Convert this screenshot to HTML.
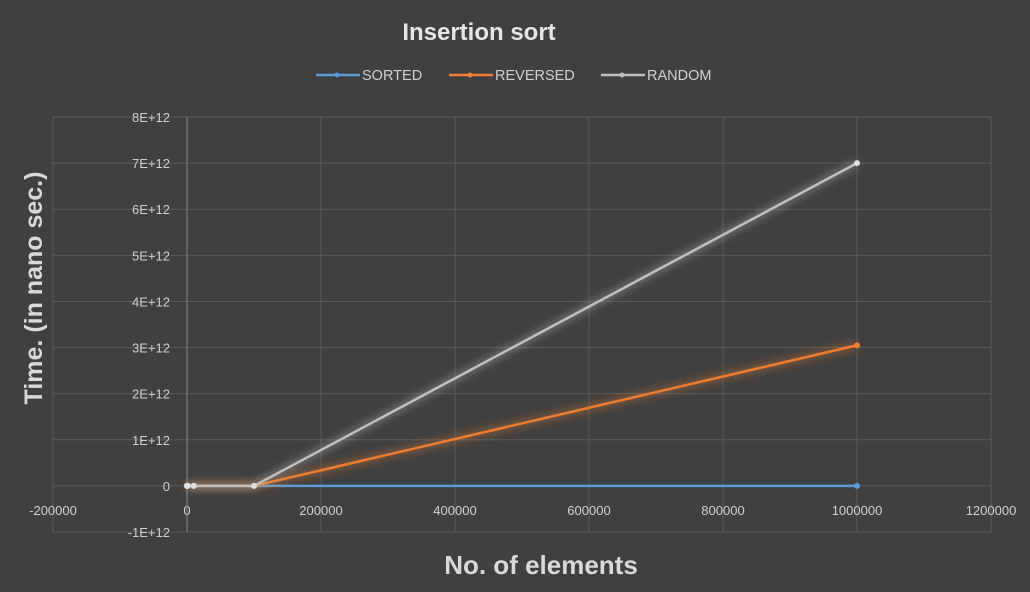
<!DOCTYPE html>
<html><head><meta charset="utf-8"><style>
html,body{margin:0;padding:0;background:#404040;}
svg{display:block;font-family:"Liberation Sans",sans-serif;}
</style></head><body>
<svg id="chart" width="1030" height="592">
<rect width="1030" height="592" fill="#404040"/>
<defs><filter id="glow" x="-20%" y="-20%" width="140%" height="140%"><feGaussianBlur stdDeviation="4"/></filter></defs>
<text x="479" y="40" text-anchor="middle" fill="#e6e6e6" font-size="24" font-weight="bold">Insertion sort</text>
<g id="grid"></g>
<g id="axes"></g>
<g id="series"></g>
<g id="legend"></g>
<text x="541" y="574" text-anchor="middle" fill="#d9d9d9" font-size="26" font-weight="bold">No. of elements</text>
<text transform="translate(42,288) rotate(-90)" text-anchor="middle" fill="#d9d9d9" font-size="25" font-weight="bold">Time. (in nano sec.)</text>
</svg>
<script>
const xValues = [10, 100, 1000, 10000, 100000, 1000000];
const sortedValues = [0, 0, 0, 0, 0, 0];
const reversedValues = [0, 0, 0, 0, 0, 3.05e12];
const randomValues = [0, 0, 0, 0, 0, 7.0e12];
const xTicks = [-200000, 0, 200000, 400000, 600000, 800000, 1000000, 1200000];
const xTickLabels = ["-200000","0","200000","400000","600000","800000","1000000","1200000"];
const yTicks = [-1e12, 0, 1e12, 2e12, 3e12, 4e12, 5e12, 6e12, 7e12, 8e12];
const yTickLabels = ["-1E+12","0","1E+12","2E+12","3E+12","4E+12","5E+12","6E+12","7E+12","8E+12"];
const seriesNames = ["SORTED","REVERSED","RANDOM"];
const seriesColors = ["#5b9bd5","#ed7d31","#bfbfbf"];

const NS = "http://www.w3.org/2000/svg";
const X0 = 53, X1 = 991, Y0 = 532, Y1 = 117;
function xs(v){ return X0 + (v - (-200000)) / 1400000 * (X1 - X0); }
function ys(v){ return Y0 - (v - (-1e12)) / 9e12 * (Y0 - Y1); }
function mk(tag, attrs, parent){ const e = document.createElementNS(NS, tag); for (const k in attrs) e.setAttribute(k, attrs[k]); parent.appendChild(e); return e; }

const grid = document.getElementById('grid');
const axes = document.getElementById('axes');
xTicks.forEach((t, i) => {
  const l = mk('line', {x1: xs(t), x2: xs(t), y1: Y1, y2: Y0, stroke: '#5a5a5a', 'stroke-width': 1}, grid);
  
  
  const tx = mk('text', {x: xs(t), y: 515, 'text-anchor': 'middle', fill: '#d0d0d0', 'font-size': 13}, axes);
  tx.textContent = xTickLabels[i];
  
  
});
yTicks.forEach((t, i) => {
  const l = mk('line', {x1: X0, x2: X1, y1: ys(t), y2: ys(t), stroke: '#5a5a5a', 'stroke-width': 1}, grid);
  
  
  const tx = mk('text', {x: 170, y: ys(t) + 5, 'text-anchor': 'end', fill: '#d0d0d0', 'font-size': 13}, axes);
  tx.textContent = yTickLabels[i];
  
  
});
const ax = mk('line', {x1: xs(0), x2: xs(0), y1: Y1, y2: Y0, stroke: '#8a8a8a', 'stroke-width': 1}, axes);



const series = document.getElementById('series');
[sortedValues, reversedValues, randomValues].forEach((vals, si) => {
  const pts = xValues.map((x, i) => xs(x) + ',' + ys(vals[i])).join(' ');
  const g = mk('polyline', {points: pts, fill: 'none', stroke: seriesColors[si], 'stroke-width': 8, opacity: 0.35, filter: 'url(#glow)'}, series);
  
  
  const p = mk('polyline', {points: pts, fill: 'none', stroke: seriesColors[si], 'stroke-width': 2.5}, series);
  
  
  xValues.forEach((x, i) => {
    const c = mk('circle', {cx: xs(x), cy: ys(vals[i]), r: 3, fill: si === 2 ? '#e0e0e0' : seriesColors[si]}, series);
    
    
  });
});

const legend = document.getElementById('legend');
const lx = [316, 449, 601];
seriesNames.forEach((n, i) => {
  const l = mk('line', {x1: lx[i], x2: lx[i] + 44, y1: 75, y2: 75, stroke: seriesColors[i], 'stroke-width': 2.5}, legend);
  
  
  const c = mk('circle', {cx: lx[i] + 21, cy: 75, r: 2.5, fill: seriesColors[i]}, legend);
  
  
  const t = mk('text', {x: lx[i] + 46, y: 80, fill: '#d0d0d0', 'font-size': 14.5}, legend);
  t.textContent = n;
  
  
});
</script>
</body></html>
